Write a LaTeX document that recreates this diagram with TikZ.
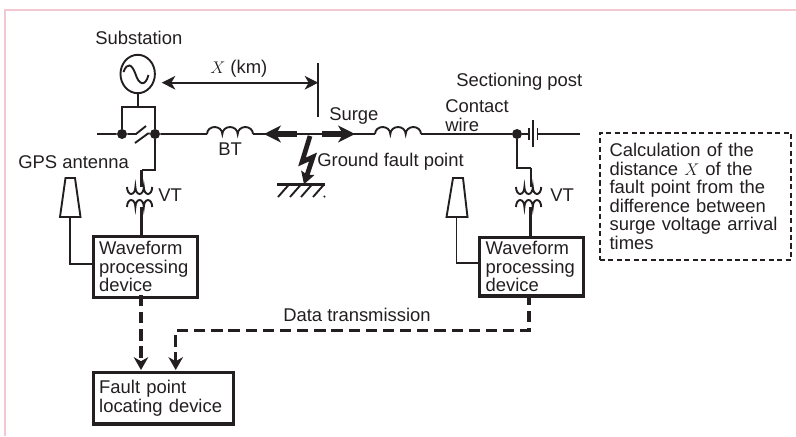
\documentclass[tikz,border=0pt]{standalone}
\usepackage{fontspec}
\setmainfont{Liberation Sans}
\usetikzlibrary{shapes.geometric,arrows.meta,positioning,calc}
\definecolor{framepink}{HTML}{F2C9D0}
\definecolor{inkgrey}{HTML}{231F20}
\tikzset{
    lbl/.style={anchor=base west, inner sep=0pt, font=\fontsize{13.1}{13.2}\selectfont, text=inkgrey},
    thinwire/.style={line width=1.35pt, draw=inkgrey},
    thickwire/.style={line width=2.1pt, draw=inkgrey},
    dot/.style={circle, fill=inkgrey, inner sep=0pt, minimum size=0.25cm},
    devbox/.style={draw=inkgrey, line width=2.4pt, anchor=north west, align=left, inner sep=0pt,
        inner xsep=0.15cm, font=\fontsize{13.1}{13.2}\selectfont, text=inkgrey},
    surge/.style={line width=3.6pt, draw=inkgrey, -{Stealth[length=0.42cm, width=0.42cm, inset=0.12cm]}},
    datalink/.style={line width=2.4pt, draw=inkgrey, dash pattern=on 8pt off 4.2pt,
        -{Stealth[length=0.32cm, width=0.36cm, inset=0.1cm]}},
}
\begin{document}
\begin{tikzpicture}[x=0.025cm, y=-0.025cm]
    \useasboundingbox (0,0) rectangle (796,436);
    % Frame
    \draw[framepink, line width=1.1pt] (5,436) -- (5,10) -- (796,10);

    % Substation
    \node[lbl] (substation) at (95,44) {Substation};
    \node[ellipse, draw=inkgrey, line width=1.35pt, minimum width=0.86cm, minimum height=0.96cm, inner sep=0pt] (source) at (137.7,74) {};
    \draw[thinwire] (123.5,72) .. controls (127,62) and (132,64) .. (135.5,74) .. controls (138.5,84) and (145,88) .. (148.5,75);
    \coordinate (boxtop) at (137.7,107);
    \draw[thinwire] (source) -- (boxtop);
    \node[dot] (busl) at (122,134) {};
    \node[dot] (busr) at (155,134) {};
    \draw[thickwire] (busl) |- (boxtop) -| (busr);

    % Contact wire
    \coordinate (linel) at (97,134);
    \coordinate (swa) at (136,134);
    \coordinate (swb) at (146,126);
    \coordinate (swc) at (135,143);
    \coordinate (swd) at (148,133.5);
    \coordinate (bta) at (207,134);
    \coordinate (btb) at (253,134);
    \coordinate (fault) at (310,134);
    \coordinate (btc) at (375,134);
    \coordinate (btd) at (421,134);
    \coordinate (capl) at (529,134);
    \coordinate (capr) at (537.5,134);
    \coordinate (liner) at (580,134);
    \node[dot] (post) at (517,134) {};
    \draw[thinwire] (linel) -- (busl) -- (swa) -- (swb);
    \draw[thinwire] (swc) -- (swd) -- (busr) -- (bta);
    \draw[thinwire] (btb) -- (fault) -- (btc);
    \draw[thinwire] (btd) -- (post) -- (capl);
    \draw[thinwire] (capr) -- (liner);
    \draw[thinwire] (bta) arc (180:360:7.67 and 7) arc (180:360:7.67 and 7) arc (180:360:7.67 and 7);
    \draw[thinwire] (btc) arc (180:360:7.67 and 7) arc (180:360:7.67 and 7) arc (180:360:7.67 and 7);
    \draw[thinwire] (capl) ++(0,-6) -- ++(0,12);
    \draw[thinwire] (533.3,120) -- (533.3,147);
    \draw[thinwire] (capr) ++(0,-6) -- ++(0,12);

    % Distance
    \coordinate (xmark) at (318.3,82.7);
    \coordinate (xstart) at (161.7,82.7);
    \draw[thinwire] (318.3,63) -- (318.3,117);
    \draw[thinwire, {Stealth[length=0.34cm, width=0.34cm, inset=0.1cm]}-{Stealth[length=0.34cm, width=0.34cm, inset=0.1cm]}] (xstart) -- (xmark);
    \node[lbl] (xlabel) at (210,73) {$X$ (km)};

    % Surge and fault
    \coordinate (surgel) at (296.7,134);
    \coordinate (surgelt) at (264,134);
    \coordinate (surger) at (322,134);
    \coordinate (surgert) at (355,134);
    \draw[surge] (surgel) -- (surgelt);
    \draw[surge] (surger) -- (surgert);
    \coordinate (groundl) at (277,184.3);
    \coordinate (groundr) at (325,184.3);
    \coordinate (boltend) at (304,184.3);
    \draw[thickwire] (groundl) -- (groundr);
    \draw[line width=3.4pt, draw=inkgrey, -{Stealth[length=0.3cm, width=0.34cm, inset=0.05cm]}, line join=miter] (310,136) -- (302,162) -- (313,157) -- (boltend);
    \foreach \hx in {278,290,301,313}
        \draw[thinwire] (\hx,197) -- ++(11,-12.5);
    \draw[thinwire] (324,197) -- (325,196);
    \node[lbl] (surgelabel) at (329,120) {Surge};
    \node[lbl] (btlabel) at (218,155.7) {BT};
    \node[lbl] (groundlabel) at (317,166) {Ground fault point};
    \node[lbl, align=left] (contact) at (445,131) {Contact\\wire};
    \node[lbl] (sectioning) at (456,86) {Sectioning post};

    % Waveform devices
    \node[devbox, minimum width=2.6cm, minimum height=1.53cm, text width=2.3cm] (wavel) at (91.5,234.5) {Waveform\\processing\\device};
    \node[devbox, minimum width=2.6cm, minimum height=1.47cm, text width=2.3cm] (waver) at (478,235.5) {Waveform\\processing\\device};
    \node[devbox, minimum width=3.45cm, minimum height=1.28cm, text width=3.2cm] (locator) at (91.5,371) {Fault point\\locating device};

    % VT left
    \coordinate (vtla) at (141.7,170);
    \coordinate (vtlb) at (141.7,187);
    \coordinate (vtlc) at (141.7,207);
    \draw[thinwire] (busr) |- (vtla);
    \draw[thickwire] (vtla) -- (vtlb);
    \draw[thickwire] (vtlc) -- (wavel.north -| vtlc);
    \draw[thinwire] (127,187) arc (180:0:4.2 and 7) arc (180:0:4.2 and 7) arc (180:0:4.2 and 7);
    \draw[thinwire] (127,207) arc (180:360:4.2 and 7) arc (180:360:4.2 and 7) arc (180:360:4.2 and 7);
    \node[lbl] (vtllabel) at (158,201.5) {VT};

    % VT right
    \coordinate (vtra) at (517,168);
    \coordinate (vtrb) at (530.7,168);
    \coordinate (vtrc) at (530.7,187);
    \coordinate (vtrd) at (530.7,207);
    \draw[thickwire] (post) -- (vtra) -- (vtrb);
    \draw[thinwire] (vtrb) -- (vtrc);
    \draw[thickwire] (vtrd) -- (waver.north -| vtrd);
    \draw[thinwire] (516,187) arc (180:0:4.2 and 7) arc (180:0:4.2 and 7) arc (180:0:4.2 and 7);
    \draw[thinwire] (516,207) arc (180:360:4.2 and 7) arc (180:360:4.2 and 7) arc (180:360:4.2 and 7);
    \node[lbl] (vtrlabel) at (550,201.5) {VT};

    % GPS antennas
    \node[lbl] (gps) at (18,168) {GPS antenna};
    \coordinate (antl) at (70,217);
    \coordinate (antr) at (456.5,217);
    \draw[thinwire, line join=miter] (antl) -- (60,217) -- (65.5,178) -- (75,178) -- (80.5,217) -- cycle;
    \draw[thinwire, line join=miter] (antr) -- (446.5,217) -- (453,178) -- (463,178) -- (467.5,217) -- cycle;
    \coordinate (antlin) at (91.5,264);
    \coordinate (antrin) at (478,263);
    \draw[thinwire] (antl) |- (antlin);
    \draw[thinwire] (antr) |- (antrin);

    % Data transmission
    \coordinate (dataturn) at (175.7,330.7);
    \coordinate (wavelout) at (141,295);
    \coordinate (waverout) at (529,294);
    \coordinate (locina) at (141,370);
    \coordinate (locinb) at (175.7,370);
    \draw[datalink] (wavelout) -- (locina);
    \draw[datalink] (waverout) |- (dataturn) -- (locinb);
    \node[lbl] (datalabel) at (283,321) {Data transmission};

    % Calculation note
    \node[draw=inkgrey, line width=1.35pt, dash pattern=on 3.6pt off 2.4pt, anchor=north west, minimum width=4.78cm, minimum height=3.17cm, text width=4.3cm, inner sep=0pt, inner xsep=0.24cm, align=left, font=\fontsize{13.1}{13.2}\selectfont, text=inkgrey] (note) at (599,132) {Calculation of the\\distance $X$ of the\\fault point from the\\difference between\\surge voltage arrival\\times};
\end{tikzpicture}
\end{document}
